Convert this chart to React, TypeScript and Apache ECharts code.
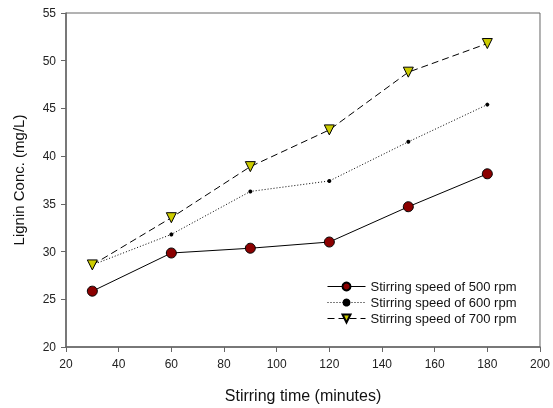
import React, { useEffect, useRef } from "react";
import * as echarts from "echarts";

const times = [30, 60, 90, 120, 150, 180];
const rpm500 = [25.85, 29.85, 30.35, 31.0, 34.7, 38.15];
const rpm600 = [28.6, 31.8, 36.3, 37.4, 41.5, 45.4];
const rpm700 = [28.6, 33.55, 38.9, 42.75, 48.8, 51.8];
const seriesNames = [
  "Stirring speed of 500 rpm",
  "Stirring speed of 600 rpm",
  "Stirring speed of 700 rpm",
];

const pairs = (ys: number[]) => times.map((t, i) => [t, ys[i]]);

export default function App() {
  const ref = useRef<HTMLDivElement>(null);
  useEffect(() => {
    if (!ref.current) return;
    const chart = echarts.init(ref.current, undefined, { renderer: "svg" });
    const font = "'Liberation Sans', Arial, sans-serif";
    chart.setOption({
      animation: false,
      textStyle: { fontFamily: font },
      grid: {
        left: 66,
        right: 11,
        top: 13,
        bottom: 60,
        show: true,
        borderColor: "#666",
        borderWidth: 1,
      },
      legend: {
        orient: "vertical",
        left: 322,
        top: 275,
        itemWidth: 38,
        itemHeight: 10,
        itemGap: 3,
        lineStyle: { width: 1 },
        textStyle: { fontSize: 13, color: "#111", fontFamily: font },
        data: seriesNames,
      },
      xAxis: {
        type: "value",
        min: 20,
        max: 200,
        interval: 20,
        name: "Stirring time (minutes)",
        nameLocation: "middle",
        nameGap: 40,
        nameTextStyle: { fontSize: 16, color: "#111" },
        axisLine: { show: true, lineStyle: { color: "#666", width: 1.5 } },
        axisTick: { show: true, length: 5, lineStyle: { color: "#666" } },
        axisLabel: { fontSize: 12, color: "#222", margin: 11 },
        splitLine: { show: false },
      },
      yAxis: {
        type: "value",
        min: 20,
        max: 55,
        interval: 5,
        name: "Lignin Conc. (mg/L)",
        nameLocation: "middle",
        nameGap: 40,
        nameTextStyle: { fontSize: 15, color: "#111" },
        axisLine: { show: true, lineStyle: { color: "#666", width: 1.5 } },
        axisTick: { show: true, length: 5, lineStyle: { color: "#666" } },
        axisLabel: { fontSize: 12, color: "#222", margin: 10 },
        splitLine: { show: false },
      },
      series: [
        {
          name: seriesNames[0],
          type: "line",
          data: pairs(rpm500),
          symbol: "circle",
          symbolSize: 10,
          lineStyle: { color: "#000", width: 1, type: "solid" },
          itemStyle: { color: "#8b0000", borderColor: "#000", borderWidth: 1 },
        },
        {
          name: seriesNames[1],
          type: "line",
          data: pairs(rpm600),
          symbol: "circle",
          symbolSize: 4,
          lineStyle: { color: "#000", width: 1, type: [1, 2] },
          itemStyle: { color: "#000", borderColor: "#000", borderWidth: 0 },
        },
        {
          name: seriesNames[2],
          type: "line",
          data: pairs(rpm700),
          symbol: "triangle",
          symbolRotate: 180,
          symbolSize: 10,
          lineStyle: { color: "#000", width: 1, type: [7, 4] },
          itemStyle: { color: "#cccc00", borderColor: "#000", borderWidth: 1 },
        },
      ],
    });
    return () => chart.dispose();
  }, []);
  return (
    <div
      ref={ref}
      style={{ position: "fixed", left: 0, top: 0, width: 553, height: 408 }}
    />
  );
}
